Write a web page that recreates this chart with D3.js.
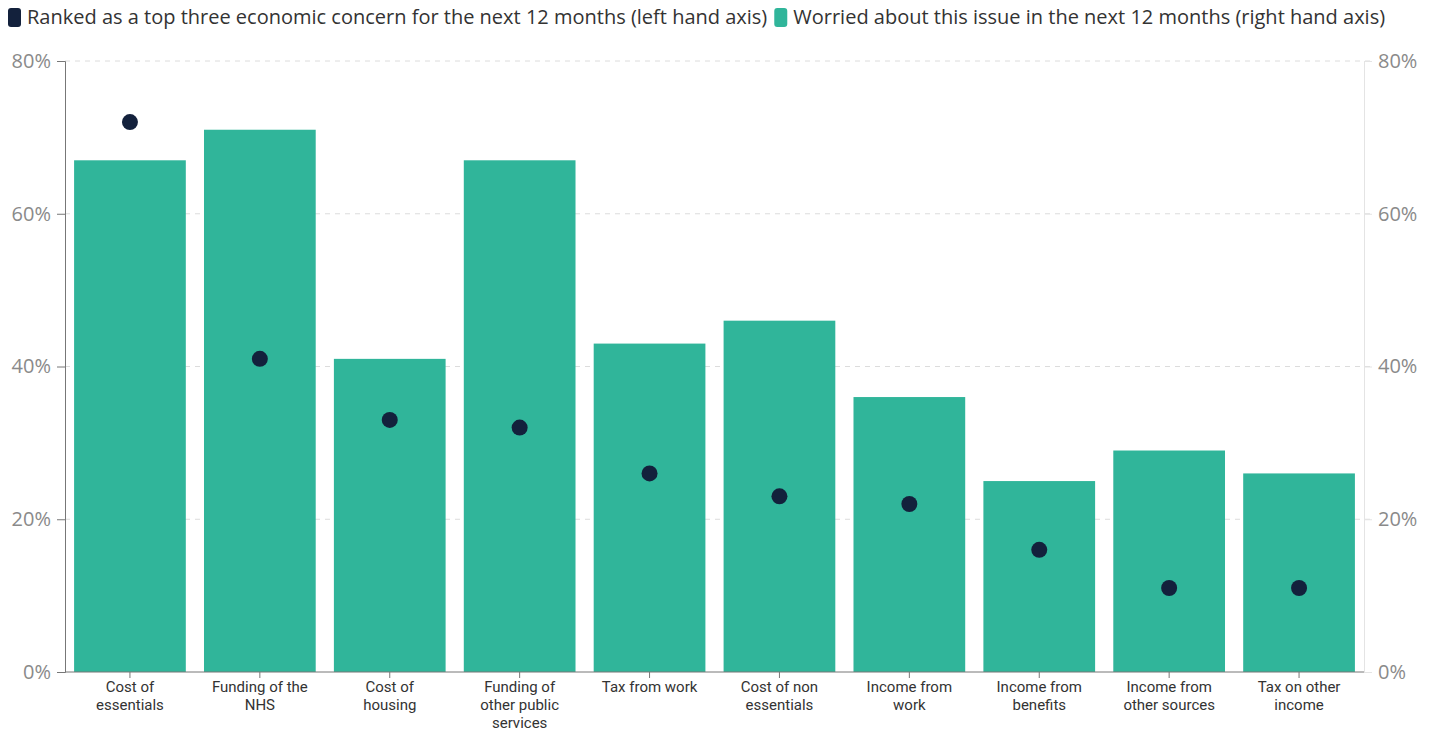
<!DOCTYPE html>
<html>
<head>
<meta charset="utf-8">
<script src="https://cdn.jsdelivr.net/npm/d3@7"></script>
<style>
  html, body { margin: 0; padding: 0; background: #fff; }
  svg { display: block; font-family: "Open Sans", Lato, sans-serif; }
</style>
</head>
<body>
<svg id="chart" width="1437" height="732"></svg>
<script>
// Economic concerns for the next 12 months
const categories = [
  ["Cost of", "essentials"],
  ["Funding of the", "NHS"],
  ["Cost of", "housing"],
  ["Funding of", "other public", "services"],
  ["Tax from work"],
  ["Cost of non", "essentials"],
  ["Income from", "work"],
  ["Income from", "benefits"],
  ["Income from", "other sources"],
  ["Tax on other", "income"]
];
// Worried about this issue (bars, right axis), %
const worried = [67, 71, 41, 67, 43, 46, 36, 25, 29, 26];
// Ranked as a top three concern (dots, left axis), %
const rankedTop3 = [72, 41, 33, 32, 26, 23, 22, 16, 11, 11];
const tickValues = [0, 20, 40, 60, 80];
const legendLabels = [
  "Ranked as a top three economic concern for the next 12 months (left hand axis)",
  "Worried about this issue in the next 12 months (right hand axis)"
];

const svg = d3.select("#chart");
const font = "'Open Sans', Lato, sans-serif";
const labelFont = "Roboto, 'Open Sans', sans-serif";
const plotLeft = 65, plotRight = 1364, plotTop = 61, plotBottom = 672;
const barColor = "#30b59a", dotColor = "#13213c";

const keys = categories.map((d, i) => i);
const x = d3.scaleBand().domain(keys).range([plotLeft, plotRight]).paddingInner(0.14).paddingOuter(0.07);
const yL = d3.scaleLinear().domain([0, 80]).range([plotBottom, plotTop]);
const yR = d3.scaleLinear().domain([0, 80]).range([plotBottom, plotTop]);

// gridlines
svg.append("g").selectAll("line").data(tickValues.filter(v => v > 0)).join("line")
  .attr("x1", plotLeft).attr("x2", plotRight + 10)
  .attr("y1", d => yL(d)).attr("y2", d => yL(d))
  .attr("stroke", "#dcdcdc").attr("stroke-width", 1).attr("stroke-dasharray", "5,5");

// bars
svg.append("g").selectAll("rect").data(worried).join("rect")
  .attr("x", (d, i) => x(i)).attr("width", x.bandwidth())
  .attr("y", d => yR(d)).attr("height", d => yR(0) - yR(d))
  .attr("fill", barColor);

// left axis
const gL = svg.append("g").attr("transform", `translate(${plotLeft},0)`)
  .call(d3.axisLeft(yL).tickValues(tickValues).tickFormat(d => d + "%").tickSize(8).tickPadding(6));
gL.select(".domain").attr("stroke", "#777");
gL.selectAll(".tick line").attr("stroke", "#777");
gL.selectAll("text").attr("fill", "#8a8a8a").attr("font-size", 20).attr("font-family", font);

// right axis
const gR = svg.append("g").attr("transform", `translate(${plotRight},0)`)
  .call(d3.axisRight(yR).tickValues(tickValues).tickFormat(d => d + "%").tickSize(8).tickPadding(6));
gR.select(".domain").attr("stroke", "#e4e4e4");
gR.selectAll(".tick line").attr("stroke", "#e4e4e4");
gR.selectAll("text").attr("fill", "#8a8a8a").attr("font-size", 20).attr("font-family", font);

// bottom axis with wrapped category labels
const gB = svg.append("g").attr("transform", `translate(0,${plotBottom})`)
  .call(d3.axisBottom(x).tickSize(6).tickFormat(""));
gB.select(".domain").attr("stroke", "#777").attr("d", `M${plotLeft},0H${plotRight}`);
gB.selectAll(".tick line").attr("stroke", "#777");
gB.selectAll(".tick").each(function(d) {
  const t = d3.select(this).append("text")
    .attr("text-anchor", "middle").attr("fill", "#333")
    .attr("font-size", 15).attr("font-family", labelFont);
  categories[d].forEach((line, j) => {
    t.append("tspan").attr("x", 0).attr("y", 20 + j * 18).text(line);
  });
});

// dots
svg.append("g").selectAll("circle").data(rankedTop3).join("circle")
  .attr("cx", (d, i) => x(i) + x.bandwidth() / 2)
  .attr("cy", d => yL(d)).attr("r", 8)
  .attr("fill", dotColor);

// legend
const legend = svg.append("g").attr("font-family", font).attr("font-size", 20).attr("fill", "#333");
const l1 = legend.append("g").attr("transform", "translate(8,8)");
l1.append("rect").attr("width", 13).attr("height", 19).attr("rx", 3).attr("fill", dotColor);
const t1 = l1.append("text").attr("x", 19).attr("y", 16).text(legendLabels[0]);
const w1 = t1.node().getComputedTextLength();
const l2 = legend.append("g").attr("transform", `translate(${8 + 19 + w1 + 7},8)`);
l2.append("rect").attr("width", 13).attr("height", 19).attr("rx", 3).attr("fill", barColor);
l2.append("text").attr("x", 19).attr("y", 16).text(legendLabels[1]);
</script>
</body>
</html>
